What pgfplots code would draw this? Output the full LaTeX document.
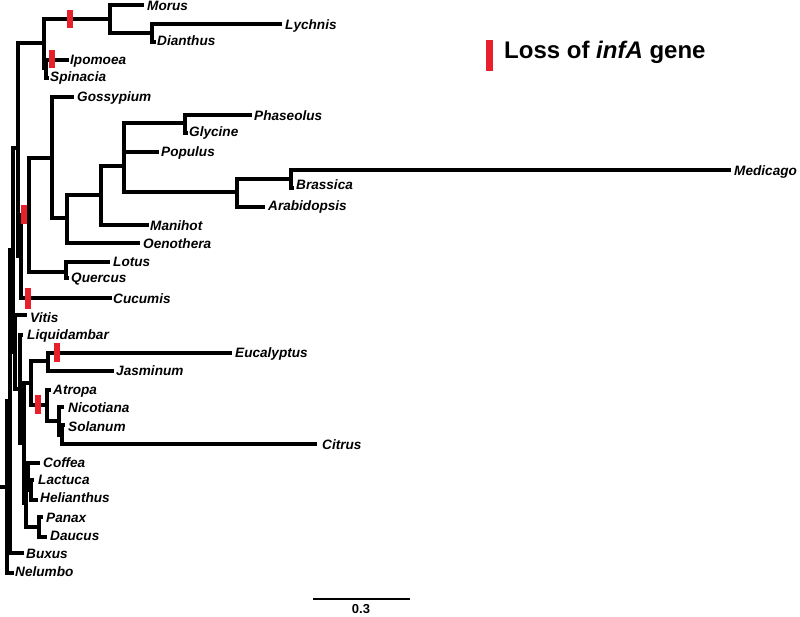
\documentclass[border=0pt]{standalone}
\usepackage{pgfplots}
\pgfplotsset{compat=1.18}
\usepackage{fontspec}
\setmainfont{Liberation Sans}
\definecolor{lossred}{RGB}{232,32,44}
\tikzset{lab/.style={anchor=mid west, inner sep=0pt, yshift=-2pt, font=\fontsize{13.6}{14}\selectfont\bfseries\itshape}}
\begin{document}
\begin{tikzpicture}
\begin{axis}[
  x=1pt, y=1pt, y dir=reverse,
  xmin=0, xmax=800, ymin=0, ymax=616,
  hide axis, clip=false,
  br/.style={black, line width=3.1pt, line cap=rect, line join=miter, no markers},
  rm/.style={lossred, line width=5.5pt, line cap=butt, no markers},
]
% root
\addplot[br] coordinates {(0,487)(7,487)};
\addplot[br] coordinates {(10,401)(7,401)(7,573)(12,573)};
% B
\addplot[br] coordinates {(13,250)(10,250)(10,553)(22,553)};
% C
\addplot[br] coordinates {(18,148)(13,148)(13,352)(15,352)};
% A
\addplot[br] coordinates {(44,43)(18,43)(18,256)(21,256)};
% A2
\addplot[br] coordinates {(29,215)(21,215)(21,298)(110,298)};
% T
\addplot[br] coordinates {(110,19)(44,19)(44,68)(46,68)};
% Morus clade
\addplot[br] coordinates {(142,5)(110,5)(110,33)(152,33)};
\addplot[br] coordinates {(280,24)(152,24)(152,42)(154,42)};
% Ipomoea / Spinacia
\addplot[br] coordinates {(67,60)(46,60)(46,78)(47,78)};
% G
\addplot[br] coordinates {(52,158)(29,158)(29,272)(66,272)};
\addplot[br] coordinates {(72,97)(52,97)(52,218)(67,218)};
\addplot[br] coordinates {(101,195)(67,195)(67,243)(138,243)};
\addplot[br] coordinates {(124,166)(101,166)(101,225)(147,225)};
\addplot[br] coordinates {(185,123)(124,123)(124,192)(237,192)};
\addplot[br] coordinates {(124,152)(157,152)};
\addplot[br] coordinates {(250,115)(185,115)(185,133)(186,133)};
\addplot[br] coordinates {(291,179)(237,179)(237,207)(263,207)};
\addplot[br] coordinates {(729,170)(291,170)(291,188)(292,188)};
\addplot[br] coordinates {(108,262)(66,262)(66,278)(67,278)};
% E
\addplot[br] coordinates {(25,315)(15,315)(15,389)(20,389)};
\addplot[br] coordinates {(21,335)(20,335)(20,443)(24,443)};
\addplot[br] coordinates {(31,383)(24,383)(24,503)(26,503)};
\addplot[br] coordinates {(48,361)(31,361)(31,405)(47,405)};
\addplot[br] coordinates {(230,353)(48,353)(48,371)(112,371)};
\addplot[br] coordinates {(49,390)(47,390)(47,421)(59,421)};
\addplot[br] coordinates {(62,407)(59,407)(59,435)(62,435)};
\addplot[br] coordinates {(63,425)(62,425)(62,444)(315,444)};
\addplot[br] coordinates {(28,477)(26,477)(26,527)(39,527)};
\addplot[br] coordinates {(38,463)(28,463)(28,490)(31,490)};
\addplot[br] coordinates {(32,480)(31,480)(31,500)(36,500)};
\addplot[br] coordinates {(41,517)(39,517)(39,537)(45,537)};
% scale bar
\addplot[br, line width=2.6pt, line cap=butt] coordinates {(313,599)(410,599)};
% infA loss marks
\addplot[rm] coordinates {(70,10)(70,28)};
\addplot[rm] coordinates {(52,50)(52,68)};
\addplot[rm] coordinates {(24,205)(24,224)};
\addplot[rm] coordinates {(28,288)(28,309)};
\addplot[rm] coordinates {(57,343)(57,362)};
\addplot[rm] coordinates {(38,395)(38,414)};
\addplot[rm, line width=7pt] coordinates {(489,40)(489,71)};
% labels
\node[lab] at (147,6) {Morus};
\node[lab] at (285,25) {Lychnis};
\node[lab] at (157,41) {Dianthus};
\node[lab] at (70,60) {Ipomoea};
\node[lab] at (50,77) {Spinacia};
\node[lab] at (77,97) {Gossypium};
\node[lab] at (254,116) {Phaseolus};
\node[lab] at (189,132) {Glycine};
\node[lab] at (161,152) {Populus};
\node[lab] at (734,171) {Medicago};
\node[lab] at (296,185) {Brassica};
\node[lab] at (268,206) {Arabidopsis};
\node[lab] at (150,226) {Manihot};
\node[lab] at (143,244) {Oenothera};
\node[lab] at (113,262) {Lotus};
\node[lab] at (71,278) {Quercus};
\node[lab] at (113,299) {Cucumis};
\node[lab] at (30,318) {Vitis};
\node[lab] at (27,335) {Liquidambar};
\node[lab] at (235,353) {Eucalyptus};
\node[lab] at (116,371) {Jasminum};
\node[lab] at (53,390) {Atropa};
\node[lab] at (68,408) {Nicotiana};
\node[lab] at (68,427) {Solanum};
\node[lab] at (322,445) {Citrus};
\node[lab] at (43,463) {Coffea};
\node[lab] at (38,480) {Lactuca};
\node[lab] at (40,498) {Helianthus};
\node[lab] at (46,518) {Panax};
\node[lab] at (50,536) {Daucus};
\node[lab] at (26,554) {Buxus};
\node[lab] at (15,572) {Nelumbo};
\node[anchor=base, inner sep=0pt, font=\fontsize{13}{14}\selectfont\bfseries] at (361,613) {0.3};
\node[anchor=mid west, inner sep=0pt, font=\fontsize{24}{24}\selectfont\bfseries] at (504,56) {Loss of \textit{infA} gene};
\end{axis}
\pgfresetboundingbox
\path[use as bounding box] (current axis.south west) rectangle (current axis.north east);
\end{tikzpicture}
\end{document}
